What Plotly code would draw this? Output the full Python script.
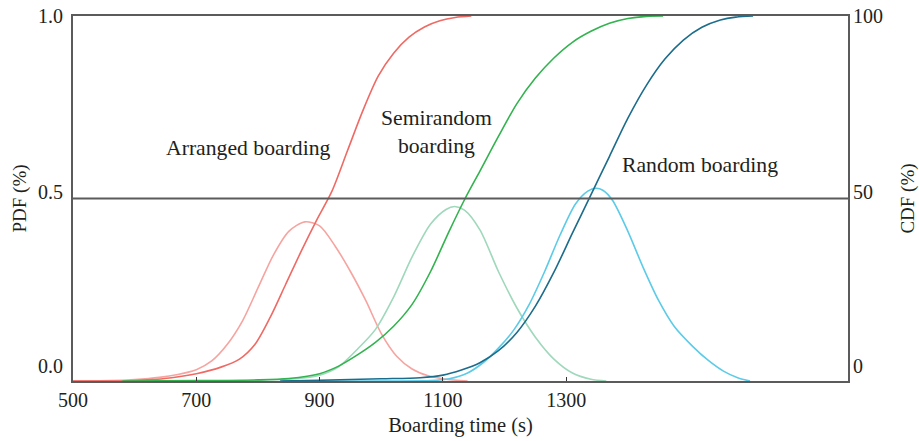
import plotly.graph_objects as go

# Arranged boarding
arr_cdf_t = [500, 580, 620, 660, 700, 740, 770, 795, 820, 845, 870, 895, 920, 945, 970, 995, 1020, 1045, 1070, 1095, 1120, 1146]
arr_cdf = [0, 0, 0.3, 0.9, 2.0, 3.8, 6.0, 10.0, 17.5, 26.5, 35.5, 44.0, 52.0, 63.0, 74.0, 83.5, 89.8, 94.2, 97.0, 98.7, 99.6, 100]
arr_pdf_t = [500, 560, 600, 640, 670, 700, 725, 750, 775, 800, 825, 850, 876, 900, 925, 950, 975, 1000, 1025, 1050, 1075, 1105, 1140]
arr_pdf = [0, 0.001, 0.004, 0.010, 0.018, 0.031, 0.055, 0.10, 0.165, 0.255, 0.345, 0.41, 0.436, 0.425, 0.37, 0.30, 0.22, 0.13, 0.068, 0.033, 0.015, 0.005, 0]

# Semirandom boarding
semi_cdf_t = [580, 700, 800, 850, 900, 930, 960, 990, 1020, 1050, 1080, 1110, 1136, 1160, 1190, 1220, 1250, 1280, 1310, 1340, 1370, 1400, 1430, 1457]
semi_cdf = [0, 0.1, 0.3, 0.7, 2.0, 4.0, 7.0, 10.5, 15.0, 21.0, 30.0, 41.0, 50.0, 57.5, 67.0, 76.0, 83.0, 88.5, 92.8, 95.8, 98.0, 99.3, 99.9, 100]
semi_pdf_t = [580, 800, 860, 900, 930, 960, 990, 1020, 1050, 1080, 1105, 1119, 1135, 1160, 1190, 1220, 1250, 1280, 1310, 1340, 1365]
semi_pdf = [0, 0.002, 0.006, 0.016, 0.038, 0.085, 0.14, 0.23, 0.34, 0.43, 0.47, 0.478, 0.468, 0.414, 0.30, 0.20, 0.12, 0.06, 0.022, 0.005, 0]

# Random boarding
rand_cdf_t = [836, 900, 1000, 1063, 1100, 1130, 1160, 1190, 1220, 1250, 1280, 1310, 1340, 1370, 1400, 1430, 1460, 1490, 1520, 1550, 1575, 1603]
rand_cdf = [0, 0.2, 0.6, 0.9, 1.6, 3.0, 5.0, 8.3, 13.3, 20.5, 29.8, 40.5, 51.0, 61.5, 72.0, 81.0, 88.2, 93.4, 96.9, 98.9, 99.7, 100]
rand_pdf_t = [840, 1000, 1080, 1110, 1140, 1165, 1190, 1215, 1240, 1265, 1290, 1315, 1335, 1348, 1360, 1375, 1400, 1425, 1450, 1475, 1505, 1530, 1555, 1578, 1598]
rand_pdf = [0, 0, 0.001, 0.006, 0.022, 0.05, 0.09, 0.14, 0.21, 0.30, 0.40, 0.485, 0.52, 0.528, 0.522, 0.495, 0.41, 0.31, 0.22, 0.15, 0.095, 0.057, 0.027, 0.009, 0]

x_ticks = [500, 700, 900, 1100, 1300]
pdf_tick_pos = [0.042, 0.518, 1.0]
pdf_tick_text = ["0.0", "0.5", "1.0"]
cdf_tick_pos = [4.2, 51.8, 100]
cdf_tick_text = ["0", "50", "100"]

series = [
    (arr_pdf_t, arr_pdf, arr_cdf_t, arr_cdf, "#f6a4a0", "#ef6a64"),
    (semi_pdf_t, semi_pdf, semi_cdf_t, semi_cdf, "#9fd8bb", "#33b34f"),
    (rand_pdf_t, rand_pdf, rand_cdf_t, rand_cdf, "#5ccbe8", "#1c6c8c"),
]

fig = go.Figure()
for pt, pv, ct, cv, pcol, ccol in series:
    fig.add_trace(go.Scatter(x=pt, y=pv, mode="lines", yaxis="y",
                             line=dict(color=pcol, width=1.6, shape="spline", smoothing=0.8)))
    fig.add_trace(go.Scatter(x=ct, y=cv, mode="lines", yaxis="y2",
                             line=dict(color=ccol, width=1.6, shape="spline", smoothing=0.8)))

frame = "#5b5b5b"
ytitle_font = dict(family="Liberation Serif", size=19, color="#231f20")
xtitle_font = dict(family="Liberation Serif", size=20.5, color="#231f20")
fig.update_layout(
    width=919, height=441,
    margin=dict(l=73, r=71, t=16, b=60),
    plot_bgcolor="white", paper_bgcolor="white",
    showlegend=False,
    font=dict(family="Liberation Serif", size=20, color="#231f20"),
    xaxis=dict(range=[500, 1757], tickvals=x_ticks, ticks="inside", ticklen=4,
               tickcolor="#333333", tickwidth=1, showline=True, linecolor=frame,
               linewidth=2, mirror=True, showgrid=False, zeroline=False,
               automargin=False,
               title=dict(text="Boarding time (s)", standoff=8, font=xtitle_font)),
    yaxis=dict(range=[0, 1], tickvals=pdf_tick_pos, ticktext=pdf_tick_text,
               ticks="", showline=True, linecolor=frame, linewidth=2, mirror=True,
               showgrid=False, zeroline=False, ticklabelstandoff=4, automargin=False,
               title=dict(text="PDF (%)", standoff=6, font=ytitle_font)),
    yaxis2=dict(range=[0, 100], tickvals=cdf_tick_pos, ticktext=cdf_tick_text,
                overlaying="y", side="right", ticks="", showline=False,
                showgrid=False, zeroline=False, ticklabelstandoff=4, automargin=False,
                title=dict(text="CDF (%)", standoff=20, font=ytitle_font)),
)

fig.add_shape(type="line", xref="paper", yref="paper", x0=0, x1=1, y0=0.5, y1=0.5,
              line=dict(color=frame, width=2))

label_font = dict(family="Liberation Serif", size=21.7, color="#231f20")
fig.add_annotation(x=784, y=0.638, xref="x", yref="y", text="Arranged boarding",
                   showarrow=False, font=label_font)
fig.add_annotation(x=1089, y=0.683, xref="x", yref="y", text="Semirandom<br>boarding",
                   showarrow=False, font=label_font)
fig.add_annotation(x=1517, y=0.592, xref="x", yref="y", text="Random boarding",
                   showarrow=False, font=label_font)

fig.write_html("out.html")
